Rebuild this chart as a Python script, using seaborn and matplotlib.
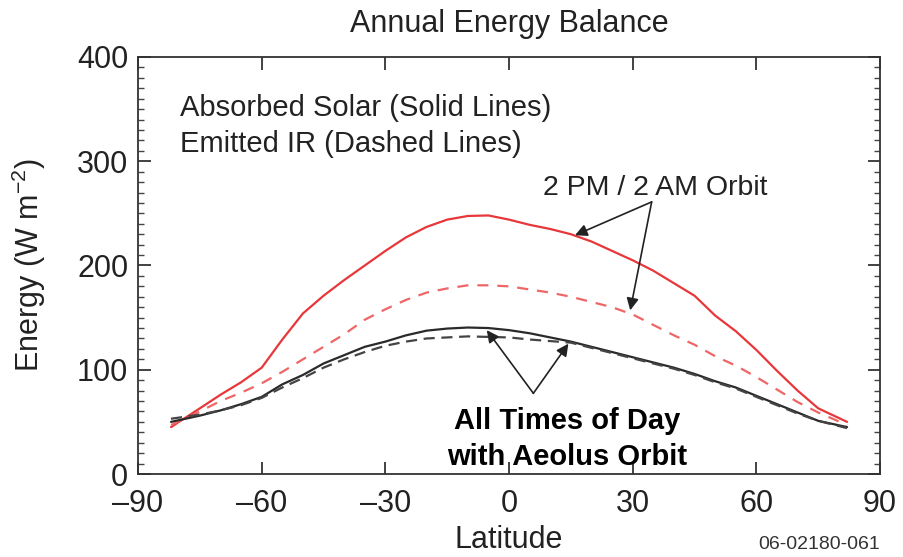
import matplotlib
matplotlib.use("Agg")
import matplotlib.pyplot as plt
from matplotlib.ticker import MultipleLocator
import seaborn as sns
import pandas as pd

# Zonal-mean annual energy balance (W m^-2) versus latitude
latitude = [-82, -75, -70, -65, -60, -55, -50, -45, -40, -35, -30, -25, -20, -15,
            -10, -5, 0, 5, 10, 15, 20, 25, 30, 35, 40, 45, 50, 55, 60, 65, 70, 75, 82]

# 2 PM / 2 AM orbit
solar_2pm = [45, 63, 76, 88, 102, 129, 154, 171, 186, 200, 214, 227, 237, 244,
             247.5, 248, 244, 239, 235, 230, 223, 214, 205, 195, 183, 171, 152,
             137, 119, 99, 80, 63, 50]
ir_2pm = [47, 60, 70, 78, 87, 98, 110, 122, 134, 148, 158, 167, 174, 178,
          181, 181, 180, 177, 174, 170, 165, 160, 153, 143, 133, 124, 113,
          104, 93, 81, 69, 59, 47]

# All times of day (Aeolus orbit)
solar_all = [50, 56, 61, 67, 74, 86, 95, 106, 114, 122, 127, 133, 137.5, 139.5,
             140.5, 140, 138, 135, 131, 127, 122, 117, 112, 107, 102, 96, 89,
             83, 75, 67, 59, 51, 45]
ir_all = [53, 57, 61, 66, 73, 83, 92, 102, 110, 117, 123, 127, 130, 131,
          132, 131.5, 131, 129, 127.5, 126, 121, 116, 111, 106, 101, 95, 88,
          82, 74, 66, 58, 51, 44]

x_ticks = [-90, -60, -30, 0, 30, 60, 90]
y_ticks = [0, 100, 200, 300, 400]

df = pd.DataFrame({
    "lat": latitude,
    "solar_2pm": solar_2pm,
    "ir_2pm": ir_2pm,
    "solar_all": solar_all,
    "ir_all": ir_all,
})

sns.set_theme(style="ticks")
plt.rcParams["font.family"] = ["Liberation Sans", "DejaVu Sans"]
plt.rcParams["mathtext.fontset"] = "custom"
plt.rcParams["mathtext.rm"] = "Liberation Sans"
plt.rcParams["mathtext.it"] = "Liberation Sans"

fig = plt.figure(figsize=(9.04, 5.57), dpi=100)
ax = fig.add_axes([0.1527, 0.149, 0.8208, 0.7487])

red = "#e8373a"
sns.lineplot(data=df, x="lat", y="solar_2pm", ax=ax, color=red, lw=1.6)
sns.lineplot(data=df, x="lat", y="ir_2pm", ax=ax, color="#ee6666", lw=1.6,
             linestyle=(0, (5, 4)))
sns.lineplot(data=df, x="lat", y="solar_all", ax=ax, color="#2a2a2a", lw=1.6)
sns.lineplot(data=df, x="lat", y="ir_all", ax=ax, color="#444444", lw=1.6,
             linestyle=(0, (5, 3)))

ax.set_xlim(-90, 90)
ax.set_ylim(0, 400)
ax.set_xticks(x_ticks)
ax.set_xticklabels([f"{t}".replace("-", "\u2013") for t in x_ticks])
ax.set_yticks(y_ticks)
ax.yaxis.set_minor_locator(MultipleLocator(10))
ax.tick_params(axis="both", which="major", direction="in", length=9, width=1.2,
               labelsize=22, colors="#222222", top=True, right=True)
ax.tick_params(axis="x", which="major", pad=11)
ax.tick_params(axis="y", which="major", pad=7)
ax.tick_params(axis="y", which="minor", direction="in", length=4.5, width=1,
               left=True, right=True, colors="#444444")
for side in ax.spines.values():
    side.set_linewidth(1.3)
    side.set_color("#333333")

ax.set_xlabel("Latitude", fontsize=22, color="#222222")
ax.xaxis.set_label_coords(0.5, -0.122)
ax.set_ylabel("Energy (W m$^{-2}$)", fontsize=22, color="#222222")
ax.yaxis.set_label_coords(-0.122, 0.5)
fig.text(509 / 904, 1 - 32 / 557, "Annual Energy Balance", fontsize=22,
         color="#222222", ha="center", va="baseline")

ax.text(-79.8, 351, "Absorbed Solar (Solid Lines)", fontsize=21, color="#222222",
        va="center", ha="left")
ax.text(-79.8, 317, "Emitted IR (Dashed Lines)", fontsize=21, color="#222222",
        va="center", ha="left")

ax.text(35.4, 274, "2 PM / 2 AM Orbit", fontsize=20.5, color="#222222",
        ha="center", va="center")
arrow = dict(arrowstyle="-|>", color="#222222", lw=1.2, mutation_scale=18,
             shrinkA=0, shrinkB=0)
ax.annotate("", xy=(16.0, 229), xytext=(34.6, 261), arrowprops=arrow)
ax.annotate("", xy=(29.4, 157), xytext=(34.6, 261), arrowprops=arrow)

ax.text(14.1, 33.5, "All Times of Day\nwith Aeolus Orbit", fontsize=21,
        fontweight="bold", color="black", ha="center", va="center",
        linespacing=1.36)
ax.annotate("", xy=(-5.4, 138), xytext=(5.9, 77.4), arrowprops=arrow)
ax.annotate("", xy=(14.4, 125), xytext=(5.9, 77.4), arrowprops=arrow)

fig.text(0.9735, 0.007, "06-02180-061", fontsize=14, color="#333333",
         ha="right", va="bottom")

fig.savefig("out.png", dpi=100, facecolor="white")
